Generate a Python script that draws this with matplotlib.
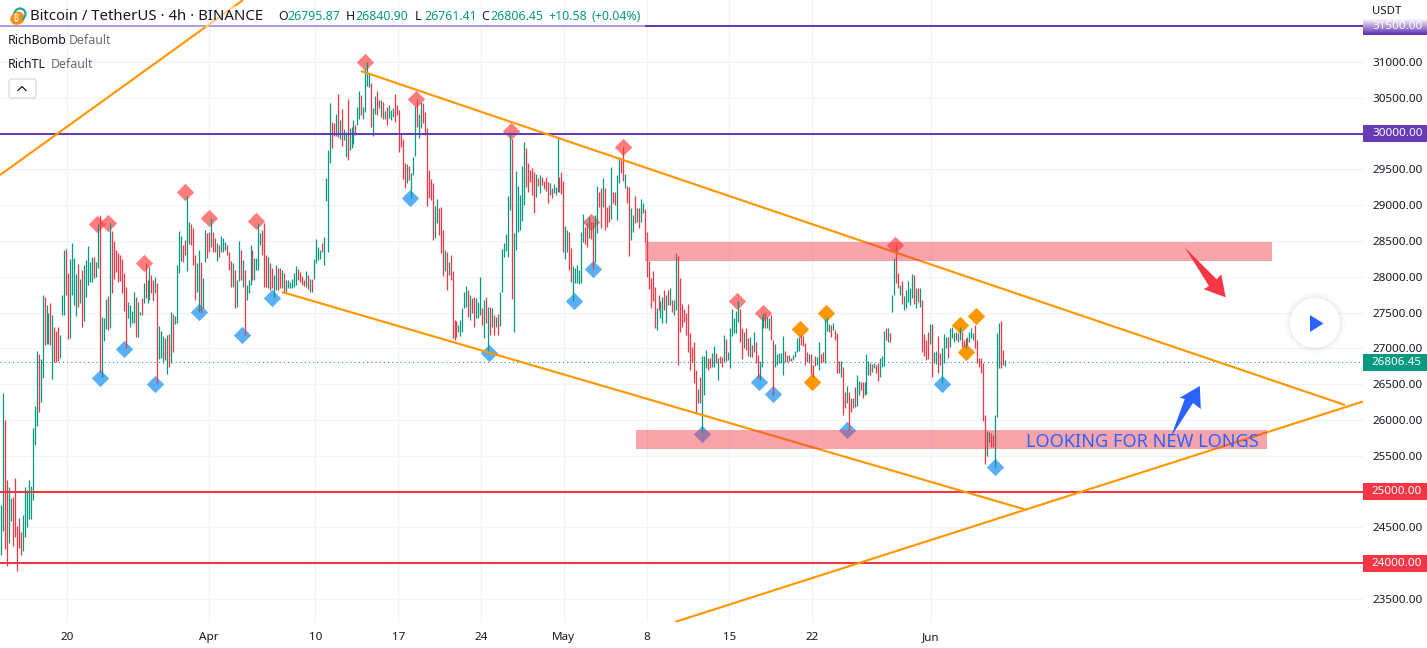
import matplotlib
matplotlib.use("Agg")
import matplotlib.pyplot as plt
import numpy as np
from matplotlib.patches import Rectangle, Circle, Polygon, FancyBboxPatch

plt.rcParams['font.family'] = ['Noto Sans', 'DejaVu Sans']

# 4h bars, ten per line
bar_high = [
    24810, 26371, 25998, 25160, 25057, 24913, 24918, 25183, 24517, 24629,
    24433, 24671, 25057, 25020, 25160, 25076, 25882, 26194, 26962, 26920,
    26846, 27745, 27712, 27605, 27490, 27630, 27465, 27300, 27240, 27300,
    27186, 27745, 28373, 28390, 28050, 28243, 28467, 28257, 28038, 28178,
    27964, 28094, 28164, 28234, 28430, 28210, 28280, 28270, 28200, 28737,
    28862, 27442, 27419, 27689, 27731, 28746, 28644, 28504, 28373, 28327,
    28304, 28243, 28047, 27852, 27652, 27605, 27521, 27782, 27712, 27652,
    27512, 27698, 27917, 28196, 27954, 28140, 28024, 27954, 27992, 27908,
    27312, 27242, 27172, 27139, 27186, 27200, 27503, 27479, 27456, 28164,
    28644, 28574, 28443, 28513, 29130, 28760, 28737, 28676, 28304, 28187,
    28373, 28210, 27978, 28653, 28606, 28630, 28816, 28630, 28536, 28467,
    28443, 28569, 28536, 28490, 28443, 28350, 28220, 28187, 28094, 27954,
    28504, 28373, 28234, 28094, 27884, 27954, 28443, 28373, 28257, 28257,
    28755, 28606, 28650, 28746, 28304, 28280, 28187, 28117, 28024, 28164,
    28117, 28117, 28094, 28047, 27954, 27954, 27931, 27964, 28047, 28150,
    28103, 28071, 28010, 27954, 28080, 28024, 27964, 27964, 28243, 28522,
    28420, 28373, 28476, 28560, 29375, 29771, 30423, 30157, 30143, 30274,
    30553, 30190, 30339, 30064, 30027, 30478, 30073, 30097, 30190, 30120,
    30376, 30595, 30539, 30376, 30898, 31005, 30842, 30711, 30353, 30525,
    30595, 30469, 30469, 30446, 30320, 30376, 30399, 30329, 30353, 30553,
    30399, 30329, 30003, 29924, 29584, 29575, 29547, 29444, 29668, 30385,
    30478, 30274, 30446, 30423, 30306, 30073, 29491, 29361, 29305, 28993,
    29081, 28956, 28979, 28653, 28374, 28350, 28210, 28304, 28080, 27395,
    27386, 27326, 27395, 27559, 27791, 27871, 27815, 27745, 27698, 27722,
    27698, 27652, 27992, 27559, 27675, 27722, 27572, 27582, 27559, 27465,
    27442, 27479, 27791, 28383, 28476, 28597, 29128, 30027, 29920, 28606,
    29477, 29268, 29142, 29547, 29878, 29794, 29584, 29491, 29514, 29468,
    29431, 29375, 29421, 29398, 29342, 29389, 29328, 29305, 29235, 29296,
    29260, 29957, 29398, 29468, 29342, 28709, 28653, 28620, 28397, 28150,
    28127, 28164, 28094, 28630, 28876, 28700, 28746, 28840, 28760, 28769,
    28862, 29268, 29188, 29235, 29384, 29235, 28979, 29000, 29538, 29188,
    29188, 29421, 29668, 29631, 29808, 29431, 29268, 29258, 28956, 28863,
    29128, 28956, 28956, 29081, 29025, 28942, 28630, 28220, 27978, 28085,
    27861, 27559, 27745, 27666, 27722, 27815, 27745, 27815, 27838, 27675,
    27675, 28327, 28290, 27978, 27619, 27545, 27489, 27619, 27209, 27023,
    27093, 26697, 26427, 26604, 26893, 26893, 26977, 26860, 26860, 26930,
    27032, 26930, 26860, 26893, 26884, 27186, 27130, 26953, 27288, 27545,
    27419, 27521, 27661, 27545, 27279, 27233, 27279, 27139, 27153, 27046,
    27233, 27093, 26907, 26827, 27442, 27489, 27489, 27433, 27420, 27465,
    27116, 27060, 26921, 26939, 26930, 27172, 26967, 26907, 26907, 26860,
    26907, 26967, 27149, 27163, 27186, 27170, 27079, 26953, 26921, 26921,
    26767, 26893, 26884, 27093, 26921, 26953, 27405, 27442, 27340, 27326,
    27349, 27256, 27219, 26827, 26827, 26734, 26394, 26474, 26385, 26301,
    26301, 26464, 26627, 26548, 26534, 26534, 26534, 26921, 26827, 26790,
    26781, 26790, 26767, 26790, 26860, 26893, 27242, 27279, 27288, 27209,
    27745, 28257, 28443, 28048, 27890, 27945, 27731, 27815, 27945, 27838,
    28038, 28024, 27838, 27838, 27838, 27675, 27200, 27116, 27233, 27340,
    27340, 26953, 26967, 27172, 26939, 27000, 27200, 27163, 27163, 27279,
    27302, 27209, 27233, 27209, 27302, 27233, 27116, 27140, 27163, 27233,
    27279, 27209, 27326, 27116, 26860, 26860, 26800, 26068, 25850, 25835,
    25812, 25790, 26068, 27210, 27349, 27386, 26976, 26840,
]
bar_low = [
    24112, 24452, 24191, 23958, 24275, 24587, 24238, 24368, 23893, 24205,
    24112, 24168, 24368, 24508, 24615, 24615, 24880, 25649, 25914, 26110,
    26250, 26580, 27046, 27055, 27055, 27046, 26572, 26805, 26815, 26825,
    26860, 27465, 27465, 27745, 27125, 27140, 27745, 27605, 27456, 27572,
    27630, 27302, 27386, 27722, 27884, 27930, 27930, 27978, 28000, 28117,
    26674, 26604, 27107, 27265, 27256, 27279, 27768, 27968, 28071, 27931,
    27945, 27768, 27521, 27000, 27419, 27302, 27349, 27358, 27163, 27153,
    27465, 27465, 27628, 27698, 27638, 27675, 27768, 27666, 27768, 26511,
    26846, 26860, 26799, 26837, 26636, 26743, 26790, 26953, 27340, 27349,
    28047, 28220, 28210, 28304, 28085, 28453, 28443, 28164, 27675, 27791,
    27512, 27512, 27558, 28210, 28257, 28350, 28420, 28350, 28350, 28224,
    28271, 28350, 28350, 28373, 28304, 28094, 27861, 27852, 27558, 27582,
    27945, 27954, 27861, 27186, 27675, 27768, 27884, 27954, 27954, 28094,
    28094, 28443, 28300, 27852, 27852, 27838, 27815, 27838, 27722, 27815,
    27815, 27838, 27838, 27791, 27791, 27838, 27838, 27838, 27852, 27884,
    27954, 27931, 27884, 27870, 27861, 27824, 27791, 27791, 27964, 28187,
    28234, 28243, 28350, 28164, 29063, 28350, 29594, 29803, 29966, 29966,
    29957, 29920, 29827, 29910, 29677, 29631, 29771, 29794, 29854, 29980,
    30120, 30199, 30260, 30199, 30306, 30665, 30655, 30097, 29966, 30274,
    30260, 30353, 30227, 30199, 30200, 30120, 30213, 30190, 30236, 30166,
    30260, 29747, 29817, 29361, 29244, 29314, 29352, 29095, 29421, 29687,
    30097, 29943, 30073, 30143, 29980, 28988, 29095, 29072, 28513, 28536,
    28746, 28583, 28336, 28010, 28085, 27815, 28024, 27954, 27140, 27116,
    27163, 27233, 27172, 27233, 27559, 27582, 27442, 27395, 27489, 27302,
    27419, 27419, 27465, 27326, 27140, 27349, 26930, 27186, 27302, 27186,
    27302, 27186, 27312, 27791, 28281, 28364, 28280, 28932, 27689, 27233,
    28374, 28630, 28653, 28783, 29002, 29258, 29188, 29328, 29142, 28895,
    29110, 29268, 29165, 29282, 29221, 29202, 29035, 29142, 29095, 29165,
    29140, 29188, 29188, 29156, 28350, 28248, 28350, 28094, 27931, 27666,
    27908, 27917, 27899, 27908, 28490, 28460, 28420, 28540, 28527, 28103,
    28210, 28606, 28979, 28676, 28979, 28653, 28700, 28760, 28802, 29025,
    29002, 28793, 29305, 29444, 29342, 29235, 29025, 28294, 28513, 28630,
    28746, 28769, 28676, 28769, 28886, 28490, 28000, 27824, 27568, 27666,
    27279, 27256, 27535, 27419, 27349, 27535, 27349, 27605, 27605, 27512,
    27465, 27535, 26767, 27233, 27302, 27372, 27186, 26953, 26697, 26813,
    26511, 26106, 26231, 26231, 25812, 26348, 26720, 26697, 26720, 26744,
    26744, 26790, 26557, 26790, 26744, 26813, 26827, 26837, 26730, 27172,
    27209, 27209, 27372, 27093, 26851, 26999, 26976, 26893, 26884, 26884,
    26953, 26790, 26581, 26557, 26744, 27279, 27279, 27279, 27250, 27116,
    26348, 26734, 26767, 26790, 26790, 26627, 26813, 26813, 26827, 26827,
    26837, 26884, 26953, 26967, 27046, 27030, 26767, 26813, 26790, 26641,
    26604, 26753, 26767, 26697, 26790, 26813, 26790, 27247, 27233, 27163,
    27256, 27116, 26651, 26651, 26604, 26068, 26162, 26231, 25859, 26115,
    26162, 26185, 26199, 26348, 26418, 26301, 26348, 26362, 26627, 26627,
    26674, 26720, 26650, 26548, 26604, 26744, 26753, 27116, 27093, 27093,
    27512, 27745, 27908, 27838, 27745, 27619, 27535, 27559, 27652, 27605,
    27698, 27619, 27559, 27652, 27580, 26953, 26893, 26837, 26846, 27060,
    26604, 26790, 26781, 26651, 26767, 26511, 26790, 27000, 26860, 27014,
    27140, 27093, 27116, 27093, 27116, 27023, 27014, 26999, 27046, 27093,
    27140, 27116, 27000, 26790, 26744, 26650, 25990, 25384, 25496, 25696,
    25626, 25626, 25346, 26045, 26720, 26720, 26767, 26753,
]
# g = up bar, r = down bar
bar_dir = (
    "ggrrggrrrr" "rggggggggr" "ggrggrgrrr" "gggrrggggr" "grgggggrgg"
    "rgggrgrrrr" "rrrrggggrg" "grgrggrrgr" "gggrgrgrgg" "ggrrggrrrg"
    "grggrrgrrg" "rgggrrrgrg" "grgrgggrgg" "ggrrrgrrgg" "rrgrgggggg"
    "rrrrgrgrgg" "ggrggggrrg" "rgrggrgggr" "ggrggggrgg" "rrgrgrgggr"
    "rrrrrgrggg" "rggrrrrrrg" "grrrgrgrrr" "rgggggrgrr" "gggrgrgrgr"
    "grggggggrg" "gggggrrrrr" "grgrrrrgrg" "ggrrrggrrg" "gggggrrgrr"
    "ggrrgrrrgr" "rggrrgrrgg" "rgrggrrrrr" "rgrggrgrgr" "ggrrrrrrrr"
    "rrgrgggrrg" "grgrrgrggg" "gggrrgrrgr" "grrgggrggr" "rgggggrgrr"
    "ggggrrrrgr" "rrggrrgggr" "grrrgrrgrr" "grggrrgggr" "ggrrgggrgr"
    "ggrrgrgggg" "grgrgrrrrg" "rggrrgggrg" "ggrggrrgrg" "ggrrrrrrgg"
    "rrgggrrg"
)

first_bar_day = -5.58
last_bar_day = 79.3

# days counted from Mar 20
tick_days = [0, 12, 21, 28, 35, 42, 49, 56, 63, 73]
tick_labels = ["20", "Apr", "10", "17", "24", "May", "8", "15", "22", "Jun"]
price_ticks = [23500, 24000, 24500, 25000, 25500, 26000, 26500, 27000, 27500,
               28000, 28500, 29000, 29500, 30000, 30500, 31000]

red_days = [2.54, 3.47, 6.51, 9.97, 12.0, 15.98, 25.19, 29.5, 37.53, 44.29, 46.96, 56.64, 58.83, 69.99]
red_prices = [28737, 28751, 28192, 29184, 28821, 28772, 30993, 30483, 30036, 28765, 29813, 27661, 27494, 28443]
blue_days = [2.79, 4.82, 7.46, 11.16, 14.79, 17.33, 29.0, 35.67, 42.83, 44.46, 53.65, 58.5, 59.65, 65.96, 73.99, 78.47]
blue_prices = [26590, 26995, 26502, 27503, 27190, 27703, 29096, 26939, 27661, 28108, 25803, 26534, 26358, 25859, 26497, 25346]
orange_days = [61.96, 64.16, 63.0, 75.49, 76.81, 75.99]
orange_prices = [27274, 27494, 26530, 27330, 27452, 26945]

# trend lines as (day, price) ends
trend_lines = [
    ((-5.66, 29421), (14.88, 31866)),
    ((24.85, 30874), (108.03, 26208)),
    ((18.17, 27787), (81.15, 24741)),
    ((51.39, 23177), (109.55, 26257)),
]
red_arrow = [(94.48, 28411), (97.18, 27964), (97.57, 28034), (97.94, 27713), (96.09, 27825), (96.53, 27871)]
blue_arrow = [(93.31, 25761), (94.48, 26292), (94.06, 26310), (95.76, 26474), (95.84, 26153), (95.18, 26236)]

last_price = 26806.45
green = "#089981"
red = "#f23645"
purple = "#673ab7"
orange = "#ff9800"
blue = "#2962ff"
dark = "#131722"
grid_col = "#f0f3fa"

fig = plt.figure(figsize=(14.27, 6.48), dpi=100, facecolor="white")
ax = fig.add_axes([0, 1 - 622 / 648, 1363 / 1427, 622 / 648])
ax.set_xlim(-5.66, 109.55)
ax.set_ylim(23177, 31866)
for s in ax.spines.values():
    s.set_visible(False)

ax.set_xticks(tick_days)
ax.set_xticklabels(tick_labels)
ax.set_yticks(price_ticks)
ax.set_yticklabels(["%.2f" % p for p in price_ticks])
ax.yaxis.tick_right()
ax.tick_params(axis="x", length=0, pad=7.5, labelsize=8.4, labelcolor=dark)
ax.tick_params(axis="y", length=0, pad=7, labelsize=8.4, labelcolor=dark)
ax.grid(True, color=grid_col, lw=0.9)
ax.set_axisbelow(True)

ax.scatter(red_days, red_prices, marker="D", s=78, color="#ff5252", alpha=0.75, lw=0, zorder=2)
ax.scatter(blue_days, blue_prices, marker="D", s=78, color="#2196f3", alpha=0.75, lw=0, zorder=2)
ax.scatter(orange_days, orange_prices, marker="D", s=78, color=orange, lw=0, zorder=2)

print(len(bar_high), len(bar_low), len(bar_dir))
days = np.linspace(first_bar_day, last_bar_day, len(bar_high))
high = np.array(bar_high)
low = np.array(bar_low)
up = np.array(list(bar_dir)) == "g"
ax.vlines(days[up], low[up], high[up], color=green, lw=0.9, zorder=3, snap=True)
ax.vlines(days[~up], low[~up], high[~up], color=red, lw=0.9, zorder=3, snap=True)

ax.axhline(31500, color=purple, lw=1.45, zorder=4)
ax.axhline(30000, color=purple, lw=1.45, zorder=4)
ax.axhline(25000, color=red, lw=1.45, zorder=4)
ax.axhline(24000, color=red, lw=1.45, zorder=4)
ax.axhline(last_price, color=green, lw=0.75, ls=(0, (1, 3)), zorder=4)

for a, b in trend_lines:
    ax.plot([a[0], b[0]], [a[1], b[1]], color=orange, lw=1.55, zorder=4, solid_capstyle="butt")

ax.add_patch(Rectangle((48.86, 28215), 53.0, 273, color=red, alpha=0.45, lw=0, zorder=5))
ax.add_patch(Rectangle((48.1, 25593), 53.34, 267, color=red, alpha=0.45, lw=0, zorder=5))
ax.add_patch(Polygon(red_arrow, closed=True, color=red, lw=0, zorder=6))
ax.add_patch(Polygon(blue_arrow, closed=True, color=blue, lw=0, zorder=6))
ax.text(81.07, 25695, "LOOKING FOR NEW LONGS", color=blue, fontsize=13.1, va="center", ha="left", zorder=7)

# price tags on the axis
tags = [(31500, purple, "31500.00"), (30000, purple, "30000.00"), (25000, red, "25000.00"),
        (24000, red, "24000.00"), (last_price, green, "26806.45")]
trans = ax.get_yaxis_transform()
for val, col, txt in tags:
    ax.add_patch(Rectangle((1.0, val - 119), 64 / 1363, 238, transform=trans, color=col, lw=0,
                           clip_on=False, zorder=8))
    ax.text(1 + 9 / 1363, val, txt, transform=trans, color="white", fontsize=8.4, va="center",
            ha="left", clip_on=False, zorder=9)

# everything else in pixel coordinates on a see through axes
top = fig.add_axes([0, 0, 1, 1], zorder=10)
top.set_xlim(0, 1427)
top.set_ylim(648, 0)
top.axis("off")
top.patch.set_alpha(0)

# white fade over the top tag
fade = np.ones((33, 2, 4))
fade[:, :, 3] = np.clip((33 - np.arange(33)) / 15, 0, 1)[:, None]
top.imshow(fade, extent=(1363, 1427, 33, 0), aspect="auto", zorder=2)
top.set_xlim(0, 1427)
top.set_ylim(648, 0)
top.text(1387, 12, "USDT", color=dark, fontsize=8.2, va="center", ha="center", zorder=3)

# legend strip
top.add_patch(Rectangle((0, 6), 645, 21, color="white", alpha=0.5, lw=0))
top.add_patch(Circle((18, 18), 6.5, color="#f7931a", lw=0))
top.add_patch(Circle((20, 14), 5.5, fill=False, ec="#26a69a", lw=1.6))
top.add_patch(Circle((16, 19), 5.8, color="#f7931a", lw=0))
top.text(16, 19, "₿", color="white", fontsize=6, va="center", ha="center")
top.text(30, 17, "Bitcoin / TetherUS · 4h · BINANCE", color=dark, fontsize=10.75, va="center")
for x, lab, val in [(278, "O", "26795.87"), (346, "H", "26840.90"), (415, "L", "26761.41"), (481, "C", "26806.45")]:
    top.text(x, 17, lab, color=dark, fontsize=8.9, va="center")
    top.text(x + 9, 17, val, color=green, fontsize=8.9, va="center")
top.text(548, 17, "+10.58", color=green, fontsize=8.9, va="center")
top.text(592, 17, "(+0.04%)", color=green, fontsize=8.9, va="center")

top.text(8, 40, "RichBomb", color=dark, fontsize=8.9, va="center")
top.text(69, 40, "Default", color="#6a6d78", fontsize=8.9, va="center")
top.text(8, 64, "RichTL", color=dark, fontsize=8.9, va="center")
top.text(51, 64, "Default", color="#6a6d78", fontsize=8.9, va="center")
top.add_patch(FancyBboxPatch((9, 79), 27, 19, boxstyle="round,pad=0,rounding_size=2.5", fc="white",
                             ec="#d1d4dc", lw=0.8))
top.plot([18, 22, 26], [90.5, 86.5, 90.5], color=dark, lw=0.9)

# play button
for r, a in [(31, 0.012), (29, 0.015), (27.5, 0.02), (26, 0.025)]:
    top.add_patch(Circle((1315, 323), r, color="black", alpha=a, lw=0))
top.add_patch(Circle((1315, 323), 25, color="white", lw=0))
top.add_patch(Polygon([(1310, 315), (1323.5, 323.5), (1310, 332)], closed=True, color=blue, lw=0))

fig.savefig("out.png", dpi=100)
